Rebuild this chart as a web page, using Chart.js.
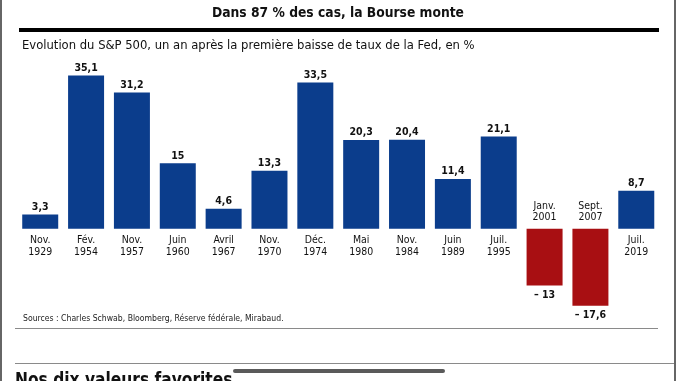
<!DOCTYPE html>
<html lang="fr">
<head>
<meta charset="UTF-8">
<title>Dans 87 % des cas, la Bourse monte</title>
<script src="https://cdn.jsdelivr.net/npm/chart.js@4"></script>
<style>
  html, body { margin: 0; padding: 0; background: #fff; }
  body { width: 680px; height: 381px; position: relative; overflow: hidden;
         font-family: "DejaVu Sans Condensed", "Liberation Sans Narrow", sans-serif; color: #111; }
  #chart { position: absolute; left: 0; top: 0; }
  .abs { position: absolute; white-space: nowrap; }
  #title { left: 0; width: 676px; top: 3px; text-align: center; font-weight: bold; font-size: 14.6px;
           transform: scaleX(0.94); transform-origin: 338px 0; }
  #rule { left: 19px; width: 640px; top: 28px; height: 4px; background: #000; }
  #subtitle { left: 22px; top: 37px; font-size: 12.9px; }
  #sources { left: 23px; top: 313px; font-size: 8.6px; color: #222; }
  .line { height: 1px; background: #8a8a8a; }
  #fav { left: 15px; top: 367px; font-weight: bold; font-size: 20px;
         transform: scaleX(0.86); transform-origin: 0 0; }
  #scroll { left: 233px; top: 369px; width: 212px; height: 4px; border-radius: 2px; background: #5a5a5a; }
  .edge { top: 0; width: 2px; height: 381px; background: #666; }
</style>
</head>
<body>
<canvas id="chart" width="680" height="381"></canvas>
<div class="abs" id="title">Dans 87 % des cas, la Bourse monte</div>
<div class="abs" id="rule"></div>
<div class="abs" id="subtitle">Evolution du S&amp;P 500, un an après la première baisse de taux de la Fed, en %</div>
<div class="abs" id="sources">Sources : Charles Schwab, Bloomberg, Réserve fédérale, Mirabaud.</div>
<div class="abs line" style="left:15px;width:643px;top:328px"></div>
<div class="abs line" style="left:15px;width:660px;top:363px"></div>
<div class="abs" id="fav">Nos dix valeurs favorites</div>
<div class="abs" id="scroll"></div>
<div class="abs edge" style="left:0"></div>
<div class="abs edge" style="left:674px"></div>
<script>
// mois et années de la première baisse de taux
const months = ['Nov.', 'Fév.', 'Nov.', 'Juin', 'Avril', 'Nov.', 'Déc.', 'Mai', 'Nov.', 'Juin', 'Juil.', 'Janv.', 'Sept.', 'Juil.'];
const years = ['1929', '1954', '1957', '1960', '1967', '1970', '1974', '1980', '1984', '1989', '1995', '2001', '2007', '2019'];
// évolution du S&P 500 un an après, en %
const values = [3.3, 35.1, 31.2, 15, 4.6, 13.3, 33.5, 20.3, 20.4, 11.4, 21.1, -13, -17.6, 8.7];

const BLUE = '#0b3d8c';
const RED = '#a80f12';
const FONT = '"DejaVu Sans Condensed", "Liberation Sans Narrow", sans-serif';

function fmt(v) {
  const s = String(Math.abs(v)).replace('.', ',');
  return v < 0 ? '\u2013 ' + s : s;
}

// texte un peu serré, comme la police du journal
function narrowText(ctx, txt, x, y, sx) {
  ctx.save();
  ctx.translate(x, y);
  ctx.scale(sx, 1);
  ctx.fillText(txt, 0, 0);
  ctx.restore();
}

const barLabels = {
  id: 'barLabels',
  afterDatasetsDraw(chart) {
    const ctx = chart.ctx;
    const meta = chart.getDatasetMeta(0);
    const zero = chart.scales.y.getPixelForValue(0);
    ctx.save();
    ctx.fillStyle = '#111';
    ctx.textAlign = 'center';
    meta.data.forEach((bar, i) => {
      const v = values[i];
      const x = bar.x;
      const vFont = 'bold 11.2px ' + FONT;
      const cFont = '11px ' + FONT;
      ctx.font = vFont;
      if (v >= 0) {
        ctx.textBaseline = 'bottom';
        narrowText(ctx, fmt(v), x, bar.y - 2, 0.94);
        ctx.font = cFont;
        ctx.textBaseline = 'middle';
        narrowText(ctx, months[i], x, zero + 11, 0.95);
        narrowText(ctx, years[i], x, zero + 23.5, 0.95);
      } else {
        ctx.textBaseline = 'top';
        narrowText(ctx, fmt(v), x, bar.y + 4, 0.94);
        ctx.font = cFont;
        ctx.textBaseline = 'middle';
        narrowText(ctx, months[i], x, zero - 23, 0.95);
        narrowText(ctx, years[i], x, zero - 11.5, 0.95);
      }
    });
    ctx.restore();
  }
};

new Chart(document.getElementById('chart'), {
  type: 'bar',
  data: {
    labels: years,
    datasets: [{
      data: values,
      backgroundColor: values.map(v => v < 0 ? RED : BLUE),
      borderWidth: 0,
      categoryPercentage: 1,
      barPercentage: 0.785
    }]
  },
  options: {
    responsive: false,
    animation: false,
    layout: { padding: { left: 17.3, right: 20.8, top: 54, bottom: 64.8 } },
    plugins: { legend: { display: false }, tooltip: { enabled: false } },
    scales: {
      x: { display: false },
      y: { display: false, min: -20, max: 40 }
    }
  },
  plugins: [barLabels]
});
</script>
</body>
</html>
